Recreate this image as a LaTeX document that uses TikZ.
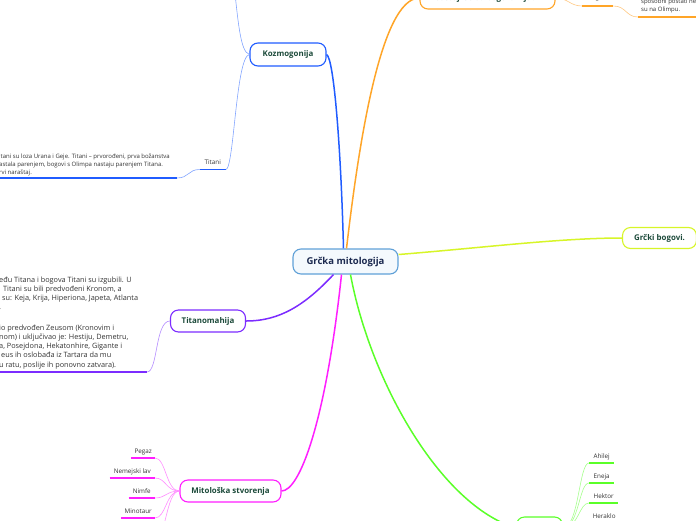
\documentclass[tikz,border=0pt]{standalone}
\usepackage{fontspec}
\setmainfont{Open Sans}
\usepackage{tikz}
\usetikzlibrary{positioning}
\definecolor{CoreLine}{RGB}{95,160,215}
\definecolor{CoreFill}{RGB}{244,249,253}
\definecolor{CoreInk}{RGB}{28,42,80}
\definecolor{TopicInk}{RGB}{28,74,58}
\definecolor{LeafInk}{RGB}{50,50,50}
\definecolor{KozBlue}{RGB}{32,92,255}
\definecolor{KozTwig}{RGB}{130,165,255}
\definecolor{SastOrange}{RGB}{255,165,40}
\definecolor{SastTwig}{RGB}{255,200,130}
\definecolor{BogYellow}{RGB}{215,245,40}
\definecolor{TitPurple}{RGB}{124,44,255}
\definecolor{TitTwig}{RGB}{180,140,255}
\definecolor{StvMagenta}{RGB}{255,30,255}
\definecolor{StvTwig}{RGB}{255,140,255}
\definecolor{JunGreen}{RGB}{90,255,40}
\definecolor{JunTwig}{RGB}{165,255,140}

\begin{document}
\begin{tikzpicture}[x=1pt, y=-1pt,
    topic/.style={rectangle, rounded corners=8pt, line width=1.1pt, fill=white,
                  minimum height=22pt, inner xsep=6pt,
                  font=\fontsize{7.9}{10}\selectfont\bfseries, text=TopicInk},
    leaf/.style={inner xsep=3pt, inner ysep=3pt, text height=4.5pt, text depth=1.5pt,
                 font=\fontsize{6.3}{7}\selectfont, text=LeafInk},
    note/.style={inner sep=0pt, align=left, text=LeafInk},
    trunk/.style={line width=1.5pt},
    twig/.style={line width=0.6pt},
    uline/.style={line width=1.8pt}
  ]
  \useasboundingbox (0,0) rectangle (696,520);
  \clip (0,0) rectangle (696,520);

  % main topics
  \node[topic, draw=CoreLine, fill=CoreFill, text=CoreInk, minimum width=105pt,
        minimum height=25pt, font=\fontsize{9.5}{11}\selectfont\bfseries]
        (grcka) at (345.5,261.5) {Grčka mitologija};
  \node[topic, draw=KozBlue, minimum width=76pt, minimum height=23pt]
        (kozmo) at (288,54.5) {Kozmogonija};
  \node[topic, draw=SastOrange, minimum width=135pt]
        (sastav) at (487.5,-2) {Sastoji se od bogova i ljudi};
  \node[topic, draw=BogYellow, minimum width=74pt, minimum height=21pt]
        (bogovi) at (659.5,238) {Grčki bogovi.};
  \node[topic, draw=TitPurple, minimum width=75pt]
        (titano) at (208,321) {Titanomahija};
  \node[topic, draw=StvMagenta, minimum width=101pt]
        (stvor) at (230.5,491) {Mitološka stvorenja};
  \node[topic, draw=JunGreen, minimum width=46pt]
        (junaci) at (539.5,528) {Junaci};

  \draw[trunk, KozBlue] ([xshift=-2pt]grcka.north)
        .. controls (341,150) and (334,58) .. (kozmo.east);
  \draw[trunk, SastOrange] ([xshift=1pt]grcka.north)
        .. controls (358,150) and (380,-2) .. (sastav.west);
  \draw[trunk, BogYellow] ([yshift=7pt]grcka.east)
        .. controls (480,248) and (560,238) .. (bogovi.west);
  \draw[trunk, TitPurple] ([xshift=-12pt]grcka.south)
        .. controls (305,305) and (280,321) .. (titano.east);
  \draw[trunk, StvMagenta] ([xshift=-4pt]grcka.south)
        .. controls (326,420) and (300,491) .. (stvor.east);
  \draw[trunk, JunGreen] ([xshift=5pt]grcka.south)
        .. controls (370,380) and (440,505) .. (junaci.west);

  % Kozmogonija
  \coordinate (kozUp) at (233,-25);
  \draw[twig, KozTwig] (kozmo.west) .. controls (240,52) and (238,20) .. (kozUp);
  \node[leaf, anchor=south east, minimum width=26pt] (titani) at (226,169.5) {Titani};
  \draw[uline, KozBlue] (titani.south west) -- (titani.south east);
  \draw[twig, KozTwig] (kozmo.west) .. controls (236,56) and (234,168) .. (titani.south east);
  \node[note, anchor=south west, font=\fontsize{6}{8}\selectfont] (titaniNote) at (-1,176)
        {itani su loza Urana i Geje. Titani – prvorođeni, prva božanstva\\
         astala parenjem, bogovi s Olimpa nastaju parenjem Titana.\\
         rvi naraštaj.};
  \coordinate (titaniEnd) at (177,178);
  \draw[twig, KozTwig] (titani.south west) .. controls (188,169.5) and (189,178) .. (titaniEnd);
  \draw[uline, KozBlue] (titaniNote.south west |- titaniEnd) -- (titaniEnd);

  % Titanomahija
  \node[note, anchor=south west, font=\fontsize{7.3}{9.2}\selectfont] (titanoNote) at (-1,369)
        {eđu Titana i bogova Titani su izgubili. U\\
         \hspace{4pt}Titani su bili predvođeni Kronom, a\\
         \hspace{3pt}su: Keja, Krija, Hiperiona, Japeta, Atlanta\\
         .\\[2pt]
         \\
         io predvođen Zeusom (Kronovim i\\
         nom) i uključivao je: Hestiju, Demetru,\\
         a, Posejdona, Hekatonhire, Gigante i\\
         \hspace{2pt}eus ih oslobađa iz Tartara da mu\\
         u ratu, poslije ih ponovno zatvara).};
  \coordinate (titanoEnd) at (147,372);
  \draw[twig, TitTwig] (titano.west) .. controls (155,321) and (158,372) .. (titanoEnd);
  \draw[uline, TitPurple] (titanoNote.south west |- titanoEnd) -- (titanoEnd);

  % Mitološka stvorenja
  \node[leaf, anchor=south east, minimum width=22pt] (pegaz) at (155,458) {Pegaz};
  \node[leaf, anchor=south east, minimum width=45pt] (lav) at (155,478) {Nemejski lav};
  \node[leaf, anchor=south east, minimum width=26pt] (nimfe) at (155,498) {Nimfe};
  \node[leaf, anchor=south east, minimum width=31pt] (minotaur) at (155,518) {Minotaur};
  \coordinate (stvorDown) at (155,540);
  \draw[uline, StvMagenta] (pegaz.south west) -- (pegaz.south east);
  \draw[uline, StvMagenta] (lav.south west) -- (lav.south east);
  \draw[uline, StvMagenta] (nimfe.south west) -- (nimfe.south east);
  \draw[uline, StvMagenta] (minotaur.south west) -- (minotaur.south east);
  \draw[twig, StvTwig] (stvor.west) .. controls (166,491) and (166,458) .. (pegaz.south east);
  \draw[twig, StvTwig] (stvor.west) .. controls (166,491) and (166,478) .. (lav.south east);
  \draw[twig, StvTwig] (stvor.west) .. controls (166,491) and (166,498) .. (nimfe.south east);
  \draw[twig, StvTwig] (stvor.west) .. controls (166,491) and (166,518) .. (minotaur.south east);
  \draw[twig, StvTwig] (stvor.west) .. controls (166,491) and (166,540) .. (stvorDown);

  % Junaci
  \node[leaf, anchor=south west, minimum width=25pt] (ahilej) at (589,463) {Ahilej};
  \node[leaf, anchor=south west, minimum width=25pt] (eneja) at (589,483) {Eneja};
  \node[leaf, anchor=south west, minimum width=29pt] (hektor) at (589,503) {Hektor};
  \node[leaf, anchor=south west, minimum width=30pt] (heraklo) at (589,523) {Heraklo};
  \draw[uline, JunGreen] (ahilej.south west) -- (ahilej.south east);
  \draw[uline, JunGreen] (eneja.south west) -- (eneja.south east);
  \draw[uline, JunGreen] (hektor.south west) -- (hektor.south east);
  \draw[uline, JunGreen] (heraklo.south west) -- (heraklo.south east);
  \draw[twig, JunTwig] (junaci.east) .. controls (579,527) and (579,463) .. (ahilej.south west);
  \draw[twig, JunTwig] (junaci.east) .. controls (579,527) and (579,483) .. (eneja.south west);
  \draw[twig, JunTwig] (junaci.east) .. controls (579,527) and (579,503) .. (hektor.south west);
  \draw[twig, JunTwig] (junaci.east) .. controls (579,527) and (579,523) .. (heraklo.south west);

  % Sastav
  \node[leaf, anchor=south west, minimum width=31pt, inner ysep=5pt] (bogLeaf) at (582,6) {Bogovi};
  \draw[uline, SastOrange] (bogLeaf.south west) -- (bogLeaf.south east);
  \draw[twig, SastTwig] (sastav.east) .. controls (568,-2) and (570,6) .. (bogLeaf.south west);
  \node[note, anchor=south west, font=\fontsize{6}{8}\selectfont] (olimpNote) at (641,13.5)
        {sposobni postati ne\\su na Olimpu.};
  \coordinate (olimpEnd) at (638,17);
  \coordinate (olimpFar) at (710,17);
  \draw[twig, SastTwig] (bogLeaf.south east) .. controls (626,6) and (626,17) .. (olimpEnd);
  \draw[uline, SastOrange] (olimpEnd) -- (olimpFar);
\end{tikzpicture}
\end{document}
